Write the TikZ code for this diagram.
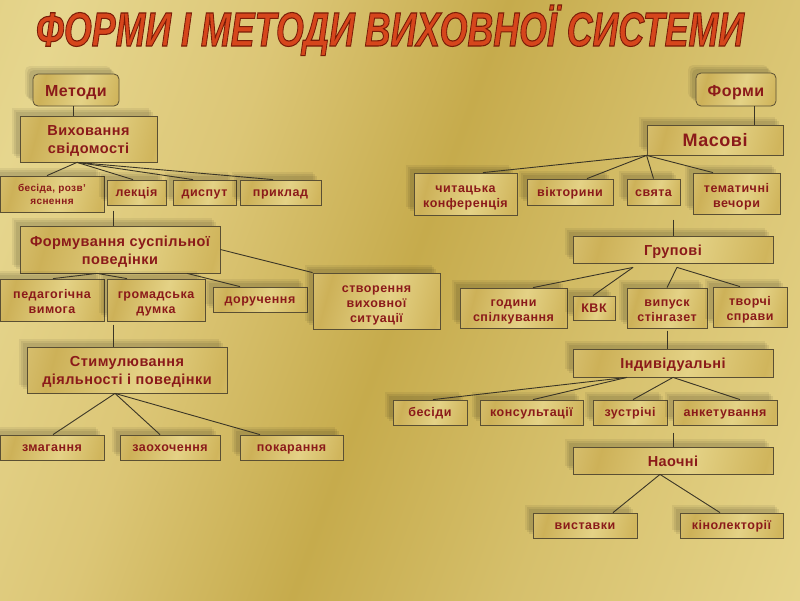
\documentclass[tikz,border=0pt]{standalone}
\usepackage{fontspec}
\setmainfont{Liberation Sans}
\newfontfamily\lsfont[LetterSpace=4]{Liberation Sans}
\newfontfamily\lsmid[LetterSpace=3]{Liberation Sans}
\usetikzlibrary{calc}
\definecolor{txt}{HTML}{8B1A1A}
\definecolor{bord}{HTML}{5A4F33}
\definecolor{lin}{HTML}{3A3526}
\definecolor{ttl}{HTML}{D6461C}
\definecolor{bx1}{HTML}{EADB9C}
\definecolor{bx2}{HTML}{CDB158}
\definecolor{bx3}{HTML}{E4D286}
\definecolor{bx4}{HTML}{D0B55C}
\definecolor{bx5}{HTML}{EEE2AA}
\definecolor{bg1}{HTML}{D8C26E}
\definecolor{bg2}{HTML}{E6D68E}
\definecolor{bg3}{HTML}{DCC676}
\definecolor{bg4}{HTML}{C6AB4C}
\definecolor{bg5}{HTML}{D6C06C}
\definecolor{bg6}{HTML}{E6D48A}
\definecolor{bg7}{HTML}{E6DCAA}
\pgfdeclarehorizontalshading{boxgold}{100bp}{color(0bp)=(bx1); color(28bp)=(bx2); color(55bp)=(bx3); color(78bp)=(bx4); color(100bp)=(bx5)}
\pgfdeclarehorizontalshading{bggold}{100bp}{color(0bp)=(bg1); color(22bp)=(bg2); color(36bp)=(bg3); color(50bp)=(bg4); color(64bp)=(bg5); color(82bp)=(bg6); color(100bp)=(bg7)}
\newcommand\mytitletext{\scalebox{0.745}[1]{\fontsize{48}{48}\selectfont\bfseries\itshape ФОРМИ І МЕТОДИ ВИХОВНОЇ СИСТЕМИ}}
\newcommand\mytops{\rule{0pt}{15pt}}
\newcommand\mytopm{\rule{0pt}{14.5pt}}
\newcommand\mytopx{\rule{0pt}{10pt}}
\newcommand\mybots{\rule[-3pt]{0pt}{3pt}}
\tikzset{
  gbase/.style={draw=bord, line width=0.8pt, shading=boxgold, shading angle=-15,
    text=txt, align=center, inner sep=0pt,
    font=\lsfont\bfseries\fontsize{12.5}{15}\selectfont,
    preaction={fill=black, opacity=0.06, transform canvas={shift={(-8pt,8pt)}}},
    preaction={fill=black, opacity=0.07, transform canvas={shift={(-6pt,6pt)}}},
    preaction={fill=black, opacity=0.07, transform canvas={shift={(-4pt,4pt)}}}},
  struts/.style 2 args={execute at begin node={\rule{0pt}{#1}}, execute at end node={\rule[-#2]{0pt}{#2}}},
  gbox/.style={gbase, struts={11.5pt}{3pt}},
  gmulti/.style={gbase},
  midbox/.style={gbase, struts={14pt}{3pt}, font=\lsmid\bfseries\fontsize{14.5}{18}\selectfont},
  midmulti/.style={gbase, font=\lsmid\bfseries\fontsize{14.5}{18}\selectfont},
  bigbox/.style={gbase, struts={17pt}{3pt}, rounded corners=5pt, font=\lsmid\bfseries\fontsize{16}{18}\selectfont},
  conn/.style={draw=lin, line width=0.9pt},
}
\begin{document}
\begin{tikzpicture}[x=1pt,y=-1pt]
\shade[shading=bggold, shading angle=-20] (0,0) rectangle (800,600);
\useasboundingbox (0,0) rectangle (800,600);
% title: filled text stroked with a dark outline
\node[anchor=base, text=ttl] (title) at (390,46) {\special{pdf:literal direct 2 Tr 1.1 w 0.478 0.110 0.031 RG}\mytitletext\special{pdf:literal direct 0 Tr}};

% ---------- left: methods
\node[bigbox, minimum width=86pt, minimum height=32pt] (met) at (76,90) {Методи};
\node[midmulti, minimum width=137pt, minimum height=46pt] (vs) at (88.5,139) {\mytopm Виховання\\свідомості\mybots};
\node[gmulti, minimum width=104pt, minimum height=36pt, font=\lsfont\bfseries\fontsize{10}{13}\selectfont] (bes) at (52,194) {\mytopx бесіда, розв’\\яснення\mybots};
\node[gbox, minimum width=59pt, minimum height=25pt] (lek) at (136.5,192.5) {лекція};
\node[gbox, minimum width=63pt, minimum height=25pt] (dys) at (204.5,192.5) {диспут};
\node[gbox, minimum width=81pt, minimum height=25pt] (pry) at (280.5,192.5) {приклад};
\node[midmulti, minimum width=200pt, minimum height=47pt] (fs) at (120,249.5) {\mytopm Формування суспільної\\поведінки\mybots};
\node[gmulti, minimum width=104pt, minimum height=42pt] (ped) at (52,300) {\mytops педагогічна\\вимога\mybots};
\node[gmulti, minimum width=98pt, minimum height=42pt] (hrom) at (156,300) {\mytops громадська\\думка\mybots};
\node[gbox, minimum width=94pt, minimum height=25pt] (dor) at (260,299.5) {доручення};
\node[gmulti, minimum width=127pt, minimum height=56pt] (stv) at (376.5,301) {\mytops створення\\виховної\\ситуації\mybots};
\node[midmulti, minimum width=200pt, minimum height=46pt] (stym) at (127,370) {\mytopm Стимулювання\\діяльності і поведінки\mybots};
\node[gbox, minimum width=104pt, minimum height=25pt] (zmah) at (52,447.5) {змагання};
\node[gbox, minimum width=100pt, minimum height=25pt] (zaoh) at (170,447.5) {заохочення};
\node[gbox, minimum width=103pt, minimum height=25pt] (pok) at (291.5,447.5) {покарання};

% ---------- right: forms
\node[bigbox, minimum width=80pt, minimum height=33pt] (form) at (736,89.5) {Форми};
\node[gbase, struts={17pt}{4pt}, minimum width=136pt, minimum height=30pt, font=\lsmid\bfseries\fontsize{18}{20}\selectfont] (mas) at (715,140) {Масові};
\node[gmulti, minimum width=103pt, minimum height=42pt] (chyt) at (465.5,194) {\mytops читацька\\конференція\mybots};
\node[gbox, minimum width=86pt, minimum height=26pt] (vik) at (570,192) {вікторини};
\node[gbox, minimum width=53pt, minimum height=26pt] (svy) at (653.5,192) {свята};
\node[gmulti, minimum width=87pt, minimum height=41pt] (tem) at (736.5,193.5) {\mytops тематичні\\вечори\mybots};
\node[midbox, minimum width=200pt, minimum height=27pt] (hrup) at (673,249.5) {Групові};
\node[gmulti, minimum width=107pt, minimum height=40pt] (hod) at (513.5,308) {\mytops години\\спілкування\mybots};
\node[gbox, minimum width=42pt, minimum height=24pt] (kvk) at (594,308) {КВК};
\node[gmulti, minimum width=80pt, minimum height=40pt] (vyp) at (667,308) {\mytops випуск\\стінгазет\mybots};
\node[gmulti, minimum width=74pt, minimum height=40pt] (tvor) at (750,307) {\mytops творчі\\справи\mybots};
\node[midbox, minimum width=200pt, minimum height=28pt] (ind) at (673,363) {Індивідуальні};
\node[gbox, minimum width=74pt, minimum height=25pt] (besd) at (430,412.5) {бесіди};
\node[gbox, minimum width=103pt, minimum height=25pt] (kons) at (531.5,412.5) {консультації};
\node[gbox, minimum width=74pt, minimum height=25pt] (zust) at (630,412.5) {зустрічі};
\node[gbox, minimum width=104pt, minimum height=25pt] (anket) at (725,412.5) {анкетування};
\node[midbox, minimum width=200pt, minimum height=27pt] (naoch) at (673,460.5) {Наочні};
\node[gbox, minimum width=104pt, minimum height=25pt] (vyst) at (585,525.5) {виставки};
\node[gbox, minimum width=103pt, minimum height=25pt] (kino) at (731.5,525.5) {кінолекторії};

% ---------- connectors left
\draw[conn] ([xshift=-3pt]met.south) -- ([xshift=-3pt]met.south |- vs.north);
\coordinate (vsA) at ([xshift=-11.5pt]vs.south);
\draw[conn] (vsA) -- ([xshift=-5pt]bes.north);
\draw[conn] (vsA) -- ([xshift=-3.5pt]lek.north);
\draw[conn] (vsA) -- ([xshift=-11.5pt]dys.north);
\draw[conn] (vsA) -- ([xshift=-7.5pt]pry.north);
\coordinate (lekStub) at ([xshift=-7pt,yshift=15pt]fs.north);
\draw[conn] (lekStub) -- ([xshift=-7pt]fs.north);
\coordinate (fsA) at ([xshift=-23pt]fs.south);
\draw[conn] (fsA) -- ([xshift=1pt]ped.north);
\draw[conn] (fsA) -- ([xshift=-29pt]hrom.north);
\draw[conn] ([xshift=67pt]fs.south) -- ([xshift=-20pt]dor.north);
\draw[conn] (fs.east) -- (stv.north west);
\coordinate (stStub) at ([xshift=-14pt,yshift=22pt]stym.north);
\draw[conn] (stStub) -- ([xshift=-14pt]stym.north);
\coordinate (stA) at ([xshift=-12pt]stym.south);
\draw[conn] (stA) -- ([xshift=1pt]zmah.north);
\draw[conn] (stA) -- ([xshift=-10pt]zaoh.north);
\draw[conn] (stA) -- ([xshift=-31.5pt]pok.north);

% ---------- connectors right
\draw[conn] ([xshift=18pt]form.south) -- ([xshift=18pt]form.south |- mas.north);
\coordinate (masA) at (mas.south west);
\draw[conn] (masA) -- ([xshift=17.5pt]chyt.north);
\draw[conn] (masA) -- ([xshift=17pt]vik.north);
\draw[conn] (masA) -- (svy.north);
\draw[conn] (masA) -- ([xshift=-23.5pt]tem.north);
\coordinate (hrStub) at ([yshift=16pt]hrup.north);
\draw[conn] (hrStub) -- (hrup.north);
\coordinate (hrA) at ([xshift=-40pt,yshift=-4pt]hrup.south);
\coordinate (hrB) at ([xshift=4pt,yshift=-4pt]hrup.south);
\draw[conn] (hrA) -- ([xshift=19.5pt]hod.north);
\draw[conn] (hrA) -- ([xshift=-1pt]kvk.north);
\draw[conn] (hrB) -- (vyp.north);
\draw[conn] (hrB) -- ([xshift=-10pt]tvor.north);
\coordinate (indStub) at ([xshift=-6pt,yshift=18pt]ind.north);
\draw[conn] (indStub) -- ([xshift=-6pt]ind.north);
\coordinate (indA) at ([xshift=-46pt]ind.south);
\draw[conn] (indA) -- ([xshift=3pt]besd.north);
\draw[conn] (indA) -- ([xshift=1.5pt]kons.north);
\draw[conn] (ind.south) -- ([xshift=3pt]zust.north);
\draw[conn] (ind.south) -- ([xshift=15pt]anket.north);
\coordinate (naStub) at ([yshift=14pt]naoch.north);
\draw[conn] (naStub) -- (naoch.north);
\coordinate (naA) at ([xshift=-13pt]naoch.south);
\draw[conn] (naA) -- ([xshift=28pt]vyst.north);
\draw[conn] (naA) -- ([xshift=-11.5pt]kino.north);
\end{tikzpicture}
\end{document}
